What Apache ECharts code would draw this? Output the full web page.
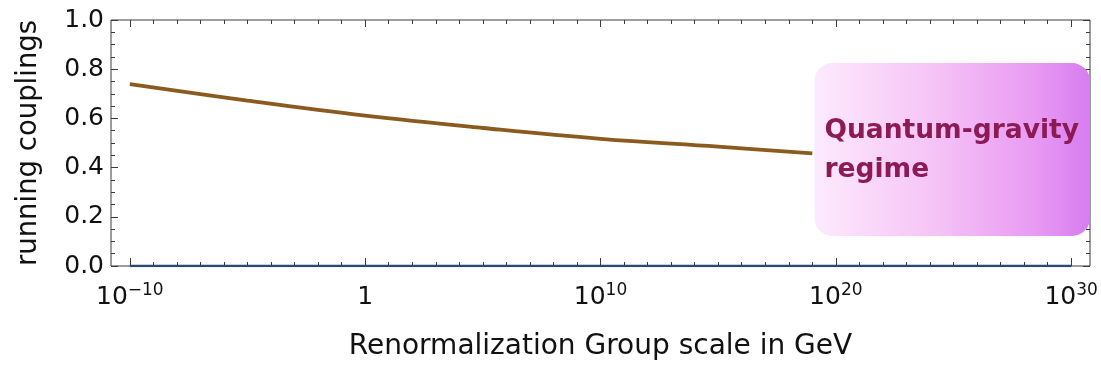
<!DOCTYPE html>
<html>
<head>
<meta charset="utf-8">
<script src="https://cdn.jsdelivr.net/npm/echarts@6/dist/echarts.min.js"></script>
<style>
  html, body { margin: 0; padding: 0; background: #fff; }
  #chart { width: 1101px; height: 367px; }
</style>
</head>
<body>
<div id="chart"></div>
<script>
// ---- data (x values are log10 of the RG scale in GeV) ----
const scaleLog = [-10, -5, 0, 5, 10, 15, 19];
const couplingValues = [0.739, 0.672, 0.611, 0.561, 0.517, 0.485, 0.458];
const flatScaleLog = [-10, 30];
const flatValues = [0, 0];
const xMajorTicks = [-10, 0, 10, 20, 30];
const xMinorTicks = [];
for (let k = -10; k <= 30; k++) xMinorTicks.push(k);
const yTickLabels = ['0.0', '0.2', '0.4', '0.6', '0.8', '1.0'];
const xTitle = 'Renormalization Group scale in GeV';
const yTitle = 'running couplings';
const regimeText = 'Quantum-gravity\nregime';
const regimeBox = { x0: 19.09, x1: 30.8, y0: 0.122, y1: 0.825 };

const FONT = 'DejaVu Sans';
const frameColor = '#3a3a3a';

function xLabel(v) {
  if (v === 0) return '{b|1}';
  const e = v < 0 ? '\u2212' + (-v) : String(v);
  return '{b|10}{s|' + e + '}';
}

const baseX = {
  type: 'value', min: -10.8, max: 30.8,
  splitLine: { show: false },
  axisLine: { show: false, onZero: false }
};
const baseY = {
  type: 'value', min: 0, max: 1, interval: 0.2,
  splitLine: { show: false },
  axisLine: { show: false, onZero: false }
};

const chart = echarts.init(document.getElementById('chart'), null, { renderer: 'canvas' });
chart.setOption({
  animation: false,
  backgroundColor: '#ffffff',
  grid: {
    left: 111, right: 11, top: 20, bottom: 101,
    show: true, borderColor: frameColor, borderWidth: 1, backgroundColor: 'transparent'
  },
  xAxis: [
    Object.assign({}, baseX, {
      position: 'bottom',
      axisTick: { show: true, inside: true, length: 8, customValues: xMajorTicks, lineStyle: { color: frameColor } },
      axisLabel: {
        show: true, customValues: xMajorTicks, margin: 16,
        formatter: xLabel,
        rich: {
          b: { fontFamily: FONT, fontSize: 25, color: '#111', lineHeight: 30 },
          s: { fontFamily: FONT, fontSize: 17, color: '#111', lineHeight: 25, verticalAlign: 'top' }
        }
      },
      name: xTitle, nameLocation: 'middle', nameGap: 67,
      nameTextStyle: { fontFamily: FONT, fontSize: 28, color: '#111', lineHeight: 28 }
    }),
    Object.assign({}, baseX, {
      position: 'bottom',
      axisTick: { show: true, inside: true, length: 4, customValues: xMinorTicks, lineStyle: { color: frameColor } },
      axisLabel: { show: false }
    }),
    Object.assign({}, baseX, {
      position: 'top',
      axisTick: { show: true, inside: true, length: 7, customValues: xMajorTicks, lineStyle: { color: frameColor } },
      axisLabel: { show: false }
    }),
    Object.assign({}, baseX, {
      position: 'top',
      axisTick: { show: true, inside: true, length: 4, customValues: xMinorTicks, lineStyle: { color: frameColor } },
      axisLabel: { show: false }
    })
  ],
  yAxis: [
    Object.assign({}, baseY, {
      position: 'left',
      axisTick: { show: true, inside: true, length: 7, lineStyle: { color: frameColor } },
      minorTick: { show: true, splitNumber: 4, length: 4, lineStyle: { color: frameColor } },
      axisLabel: {
        show: true, margin: 7,
        formatter: function (v) { return yTickLabels[Math.round(v / 0.2)]; },
        fontFamily: FONT, fontSize: 25, color: '#111'
      },
      name: yTitle, nameLocation: 'middle', nameGap: 68, nameRotate: 90,
      nameTextStyle: { fontFamily: FONT, fontSize: 27.5, color: '#111', lineHeight: 28 }
    }),
    Object.assign({}, baseY, {
      position: 'right',
      axisTick: { show: true, inside: true, length: 7, lineStyle: { color: frameColor } },
      minorTick: { show: true, splitNumber: 4, length: 4, lineStyle: { color: frameColor } },
      axisLabel: { show: false }
    })
  ],
  series: [
    {
      type: 'line', xAxisIndex: 0, yAxisIndex: 0,
      data: flatScaleLog.map((x, i) => [x, flatValues[i]]),
      showSymbol: false, symbol: 'none',
      lineStyle: { color: '#2b4a6e', width: 2.5 },
      z: 3
    },
    {
      type: 'line', xAxisIndex: 0, yAxisIndex: 0,
      data: scaleLog.map((x, i) => [x, couplingValues[i]]),
      smooth: 0.4, showSymbol: false, symbol: 'none',
      lineStyle: { color: '#8a5a1e', width: 3.8, cap: 'butt' },
      z: 4
    }
  ]
});

// Quantum-gravity regime box, placed through the axes' scales
const p0 = chart.convertToPixel({ xAxisIndex: 0, yAxisIndex: 0 }, [regimeBox.x0, regimeBox.y1]);
const p1 = chart.convertToPixel({ xAxisIndex: 0, yAxisIndex: 0 }, [regimeBox.x1, regimeBox.y0]);
chart.setOption({
  graphic: [
    {
      type: 'rect', z: 100,
      shape: { x: p0[0], y: p0[1], width: p1[0] - p0[0], height: p1[1] - p0[1], r: 18 },
      style: {
        fill: new echarts.graphic.LinearGradient(0, 0, 1, 0, [
          { offset: 0, color: '#fdeafd' },
          { offset: 0.45, color: '#f5c2f6' },
          { offset: 0.8, color: '#e99af3' },
          { offset: 1, color: '#d67cf0' }
        ])
      }
    },
    {
      type: 'text', z: 101,
      x: p0[0] + 10, y: p0[1] + 49,
      style: {
        text: regimeText,
        fontFamily: FONT, fontWeight: 'bold', fontSize: 26.5,
        lineHeight: 39, fill: '#8b1a55',
        verticalAlign: 'top', align: 'left'
      }
    }
  ]
});
</script>
</body>
</html>
